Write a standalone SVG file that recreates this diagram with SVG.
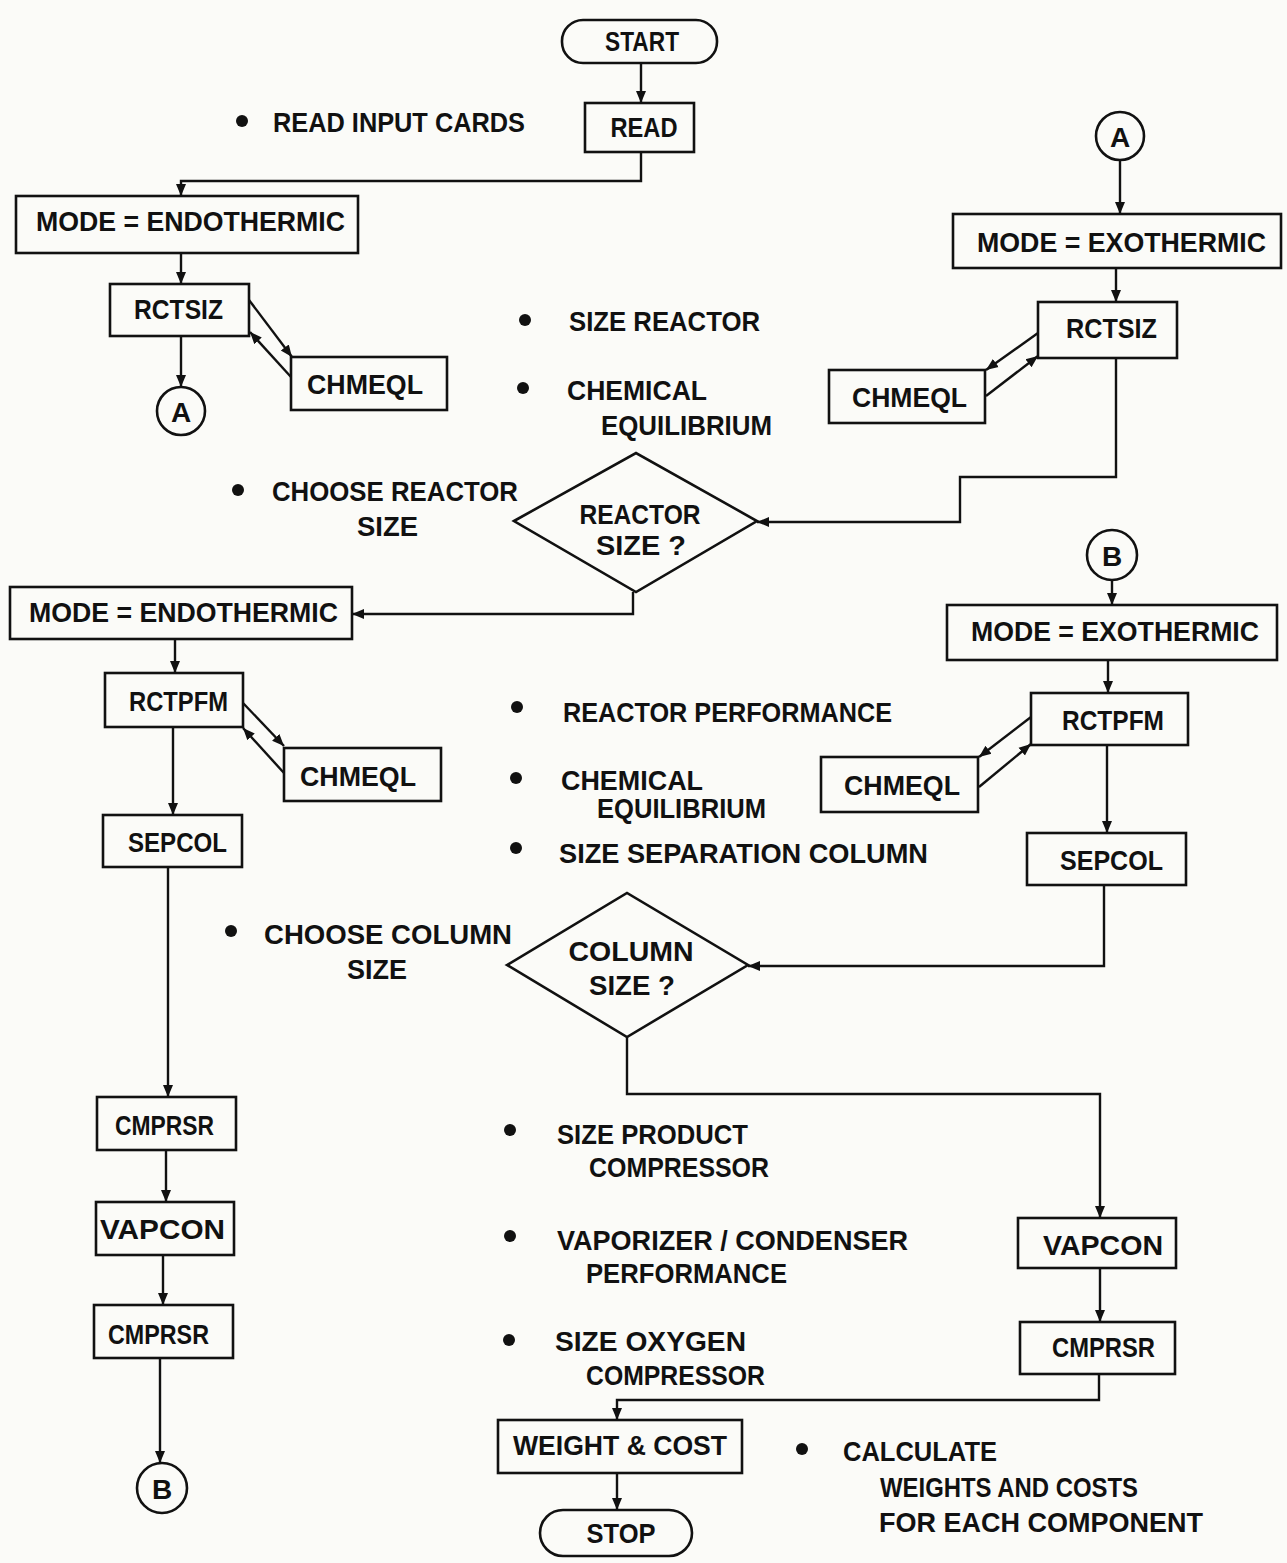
<svg xmlns="http://www.w3.org/2000/svg" width="1287" height="1563" viewBox="0 0 1287 1563">
<defs>
<marker id="ah" markerUnits="userSpaceOnUse" markerWidth="14" markerHeight="12" refX="12" refY="6" orient="auto">
<path d="M0,1 L12,6 L0,11 Z" fill="#111"/>
</marker>
<style>
.b{fill:none;stroke:#111;stroke-width:2.6}
.c{fill:none;stroke:#111;stroke-width:2.4;marker-end:url(#ah)}
text{font-family:"Liberation Sans",Arial,sans-serif;font-weight:bold;font-size:28px;fill:#111}
.m{text-anchor:middle}
</style>
</defs>
<rect width="1287" height="1563" fill="#fbfbf8"/>

<g id="start"><rect class="b" x="562" y="20" width="155" height="43" rx="21"/><text class="m" x="642" y="51" textLength="74" lengthAdjust="spacingAndGlyphs">START</text></g>
<g id="read"><rect class="b" x="585" y="103" width="109" height="49"/><text class="m" x="644" y="137" textLength="67" lengthAdjust="spacingAndGlyphs">READ</text></g>
<g id="note-read"><circle cx="242" cy="121" r="6" fill="#111"/><text x="273" y="132" textLength="252" lengthAdjust="spacingAndGlyphs">READ INPUT CARDS</text></g>

<g id="mode-endo1"><rect class="b" x="16" y="196" width="342" height="57"/><text x="36" y="231" textLength="309" lengthAdjust="spacingAndGlyphs">MODE = ENDOTHERMIC</text></g>
<g id="rctsiz-l"><rect class="b" x="110" y="284" width="139" height="52"/><text x="134" y="319" textLength="89" lengthAdjust="spacingAndGlyphs">RCTSIZ</text></g>
<g id="chmeql-l1"><rect class="b" x="291" y="357" width="156" height="53"/><text x="307" y="394" textLength="116" lengthAdjust="spacingAndGlyphs">CHMEQL</text></g>
<g id="a-left"><circle class="b" cx="181" cy="411" r="24"/><text class="m" x="181" y="422">A</text></g>

<g id="note-size-reactor"><circle cx="525" cy="320" r="6" fill="#111"/><text x="569" y="331" textLength="191" lengthAdjust="spacingAndGlyphs">SIZE REACTOR</text></g>
<g id="note-chem1"><circle cx="523" cy="388" r="6" fill="#111"/><text x="567" y="400" textLength="140" lengthAdjust="spacingAndGlyphs">CHEMICAL</text><text x="601" y="435" textLength="171" lengthAdjust="spacingAndGlyphs">EQUILIBRIUM</text></g>
<g id="note-choose-reactor"><circle cx="238" cy="490" r="6" fill="#111"/><text x="272" y="501" textLength="246" lengthAdjust="spacingAndGlyphs">CHOOSE REACTOR</text><text x="357" y="536" textLength="61" lengthAdjust="spacingAndGlyphs">SIZE</text></g>

<g id="a-right"><circle class="b" cx="1120" cy="136" r="24"/><text class="m" x="1120" y="147">A</text></g>
<g id="mode-exo1"><rect class="b" x="953" y="214" width="328" height="54"/><text x="977" y="252" textLength="289" lengthAdjust="spacingAndGlyphs">MODE = EXOTHERMIC</text></g>
<g id="rctsiz-r"><rect class="b" x="1038" y="302" width="139" height="56"/><text x="1066" y="338" textLength="91" lengthAdjust="spacingAndGlyphs">RCTSIZ</text></g>
<g id="chmeql-r1"><rect class="b" x="829" y="370" width="156" height="53"/><text x="852" y="407" textLength="115" lengthAdjust="spacingAndGlyphs">CHMEQL</text></g>

<g id="reactor-size"><polygon class="b" points="514,521 636,453 757,521 636,592"/><text class="m" x="640" y="524" textLength="121" lengthAdjust="spacingAndGlyphs">REACTOR</text><text class="m" x="641" y="555" textLength="90" lengthAdjust="spacingAndGlyphs">SIZE ?</text></g>

<g id="mode-endo2"><rect class="b" x="10" y="587" width="342" height="52"/><text x="29" y="622" textLength="309" lengthAdjust="spacingAndGlyphs">MODE = ENDOTHERMIC</text></g>
<g id="rctpfm-l"><rect class="b" x="105" y="673" width="138" height="54"/><text x="129" y="711" textLength="99" lengthAdjust="spacingAndGlyphs">RCTPFM</text></g>
<g id="chmeql-l2"><rect class="b" x="284" y="748" width="157" height="53"/><text x="300" y="786" textLength="116" lengthAdjust="spacingAndGlyphs">CHMEQL</text></g>
<g id="sepcol-l"><rect class="b" x="103" y="815" width="139" height="52"/><text x="128" y="852" textLength="99" lengthAdjust="spacingAndGlyphs">SEPCOL</text></g>

<g id="b-right"><circle class="b" cx="1112" cy="555" r="25"/><text class="m" x="1112" y="566">B</text></g>
<g id="mode-exo2"><rect class="b" x="947" y="605" width="330" height="55"/><text x="971" y="641" textLength="288" lengthAdjust="spacingAndGlyphs">MODE = EXOTHERMIC</text></g>
<g id="rctpfm-r"><rect class="b" x="1031" y="693" width="157" height="52"/><text x="1062" y="730" textLength="102" lengthAdjust="spacingAndGlyphs">RCTPFM</text></g>
<g id="chmeql-r2"><rect class="b" x="821" y="757" width="157" height="55"/><text x="844" y="795" textLength="116" lengthAdjust="spacingAndGlyphs">CHMEQL</text></g>
<g id="sepcol-r"><rect class="b" x="1027" y="833" width="159" height="52"/><text x="1060" y="870" textLength="103" lengthAdjust="spacingAndGlyphs">SEPCOL</text></g>

<g id="note-reactor-perf"><circle cx="517" cy="707" r="6" fill="#111"/><text x="563" y="722" textLength="329" lengthAdjust="spacingAndGlyphs">REACTOR PERFORMANCE</text></g>
<g id="note-chem2"><circle cx="516" cy="778" r="6" fill="#111"/><text x="561" y="790" textLength="142" lengthAdjust="spacingAndGlyphs">CHEMICAL</text><text x="597" y="818" textLength="169" lengthAdjust="spacingAndGlyphs">EQUILIBRIUM</text></g>
<g id="note-sepcol"><circle cx="516" cy="848" r="6" fill="#111"/><text x="559" y="863" textLength="369" lengthAdjust="spacingAndGlyphs">SIZE SEPARATION COLUMN</text></g>
<g id="note-choose-column"><circle cx="231" cy="931" r="6" fill="#111"/><text x="264" y="944" textLength="248" lengthAdjust="spacingAndGlyphs">CHOOSE COLUMN</text><text x="347" y="979" textLength="60" lengthAdjust="spacingAndGlyphs">SIZE</text></g>

<g id="column-size"><polygon class="b" points="507,965 627,893 748,965 627,1037"/><text class="m" x="631" y="961" textLength="125" lengthAdjust="spacingAndGlyphs">COLUMN</text><text class="m" x="632" y="995" textLength="86" lengthAdjust="spacingAndGlyphs">SIZE ?</text></g>

<g id="cmprsr-l1"><rect class="b" x="97" y="1097" width="139" height="53"/><text x="115" y="1135" textLength="99" lengthAdjust="spacingAndGlyphs">CMPRSR</text></g>
<g id="vapcon-l"><rect class="b" x="96" y="1202" width="138" height="53"/><text x="100" y="1239" textLength="125" lengthAdjust="spacingAndGlyphs">VAPCON</text></g>
<g id="cmprsr-l2"><rect class="b" x="94" y="1305" width="139" height="53"/><text x="108" y="1344" textLength="101" lengthAdjust="spacingAndGlyphs">CMPRSR</text></g>
<g id="b-left"><circle class="b" cx="162" cy="1488" r="25"/><text class="m" x="162" y="1499">B</text></g>

<g id="note-prod-comp"><circle cx="510" cy="1130" r="6" fill="#111"/><text x="557" y="1144" textLength="191" lengthAdjust="spacingAndGlyphs">SIZE PRODUCT</text><text x="589" y="1177" textLength="180" lengthAdjust="spacingAndGlyphs">COMPRESSOR</text></g>
<g id="note-vapcon"><circle cx="510" cy="1236" r="6" fill="#111"/><text x="557" y="1250" textLength="351" lengthAdjust="spacingAndGlyphs">VAPORIZER / CONDENSER</text><text x="586" y="1283" textLength="201" lengthAdjust="spacingAndGlyphs">PERFORMANCE</text></g>
<g id="note-oxy-comp"><circle cx="509" cy="1340" r="6" fill="#111"/><text x="555" y="1351" textLength="191" lengthAdjust="spacingAndGlyphs">SIZE OXYGEN</text><text x="586" y="1385" textLength="179" lengthAdjust="spacingAndGlyphs">COMPRESSOR</text></g>

<g id="vapcon-r"><rect class="b" x="1018" y="1218" width="158" height="50"/><text x="1043" y="1255" textLength="120" lengthAdjust="spacingAndGlyphs">VAPCON</text></g>
<g id="cmprsr-r"><rect class="b" x="1020" y="1322" width="155" height="52"/><text x="1052" y="1357" textLength="103" lengthAdjust="spacingAndGlyphs">CMPRSR</text></g>

<g id="weight-cost"><rect class="b" x="498" y="1420" width="244" height="53"/><text x="513" y="1455" textLength="214" lengthAdjust="spacingAndGlyphs">WEIGHT &amp; COST</text></g>
<g id="stop"><rect class="b" x="540" y="1510" width="152" height="46" rx="23"/><text class="m" x="621" y="1543" textLength="69" lengthAdjust="spacingAndGlyphs">STOP</text></g>
<g id="note-calc"><circle cx="802" cy="1449" r="6" fill="#111"/><text x="843" y="1461" textLength="154" lengthAdjust="spacingAndGlyphs">CALCULATE</text><text x="880" y="1497" textLength="258" lengthAdjust="spacingAndGlyphs">WEIGHTS AND COSTS</text><text x="879" y="1532" textLength="324" lengthAdjust="spacingAndGlyphs">FOR EACH COMPONENT</text></g>

<g id="connectors">
<path class="c" d="M641,63 V103"/>
<path class="c" d="M641,152 V181 H181 V196"/>
<path class="c" d="M181,253 V284"/>
<path class="c" d="M181,336 V387"/>
<path class="c" d="M249,300 L292,357"/>
<path class="c" d="M291,377 L250,332"/>
<path class="c" d="M1120,160 V214"/>
<path class="c" d="M1116,268 V302"/>
<path class="c" d="M1038,333 L986,370"/>
<path class="c" d="M986,396 L1038,356"/>
<path class="c" d="M1116,358 V477 H960 V522 H757"/>
<path class="c" d="M633,592 V614 H352"/>
<path class="c" d="M175,639 V673"/>
<path class="c" d="M243,703 L284,746"/>
<path class="c" d="M284,773 L243,728"/>
<path class="c" d="M173,727 V815"/>
<path class="c" d="M168,867 V1097"/>
<path class="c" d="M166,1150 V1202"/>
<path class="c" d="M163,1255 V1305"/>
<path class="c" d="M160,1358 V1463"/>
<path class="c" d="M1112,580 V605"/>
<path class="c" d="M1108,660 V693"/>
<path class="c" d="M1031,717 L979,757"/>
<path class="c" d="M979,787 L1031,744"/>
<path class="c" d="M1107,745 V833"/>
<path class="c" d="M1104,885 V966 H748"/>
<path class="c" d="M627,1037 V1094 H1100 V1218"/>
<path class="c" d="M1100,1268 V1322"/>
<path class="c" d="M1099,1374 V1400 H617 V1420"/>
<path class="c" d="M617,1473 V1510"/>
</g>
</svg>
